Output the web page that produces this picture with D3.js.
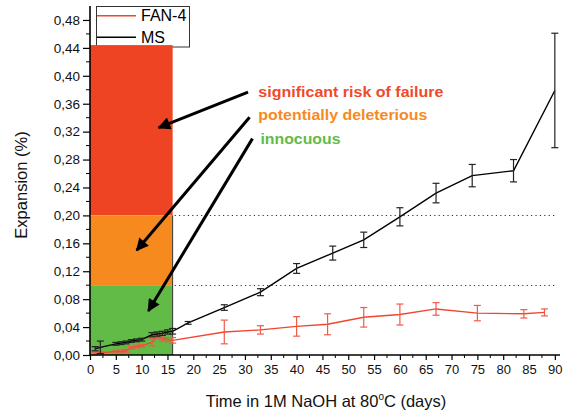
<!DOCTYPE html>
<html>
<head>
<meta charset="utf-8">
<script src="https://cdn.jsdelivr.net/npm/d3@7"></script>
<style>
  body { margin: 0; background: #fff; }
  svg { display: block; font-family: "Liberation Sans", Arial, sans-serif; }
</style>
</head>
<body>
<svg id="chart" width="566" height="414"></svg>
<script>
// days / expansion (%)
const msDays = [1, 2, 5, 6, 7, 8, 9, 10, 12, 13, 14, 15, 16, 19, 26, 33, 40, 47, 53, 60, 67, 74, 82, 90];
const msValues = [0.009, 0.011, 0.016, 0.017, 0.018, 0.020, 0.021, 0.022, 0.029, 0.030, 0.031, 0.033, 0.034,
  0.046, 0.068, 0.090, 0.124, 0.146, 0.165, 0.198, 0.232, 0.257, 0.264, 0.379];
const msErrors = [0.003, 0.009, 0.002, 0.002, 0.002, 0.002, 0.002, 0.002, 0.003, 0.003, 0.003, 0.003, 0.004,
  0.002, 0.004, 0.005, 0.007, 0.010, 0.011, 0.013, 0.014, 0.016, 0.016, 0.082];

const fanDays = [1, 2, 5, 6, 7, 8, 9, 10, 12, 13, 14, 15, 16, 26, 33, 40, 46, 53, 60, 67, 75, 84, 88];
const fanValues = [0.002, 0.003, 0.005, 0.005, 0.006, 0.010, 0.012, 0.013, 0.018, 0.026, 0.024, 0.022, 0.021,
  0.033, 0.036, 0.041, 0.044, 0.054, 0.058, 0.066, 0.060, 0.059, 0.061];
const fanErrors = [0.002, 0.002, 0.002, 0.002, 0.002, 0.002, 0.002, 0.002, 0.005, 0.003, 0.004, 0.003, 0.004,
  0.017, 0.006, 0.014, 0.015, 0.014, 0.015, 0.009, 0.011, 0.006, 0.005];

// limit zones (up to 16 days)
const zoneEnd = 16;
const zones = [
  { from: 0.2, to: 0.444, color: '#ef4423' },
  { from: 0.1, to: 0.2, color: '#f68a1f' },
  { from: 0, to: 0.1, color: '#63bb47' }
];
const limits = [0.1, 0.2];

const labels = [
  { text: 'significant risk of failure', color: '#ef4a2a', day: 32.6, value: 0.369, len: 185, arrow: [30.6, 0.3765, 13.3, 0.3257] },
  { text: 'potentially deleterious', color: '#f68a1f', day: 32.6, value: 0.336, len: 169, arrow: [30.9, 0.3406, 9.05, 0.150] },
  { text: 'innocuous', color: '#63bb47', day: 33.0, value: 0.303, len: 80, arrow: [31.45, 0.310, 11.3, 0.063] }
];

const yTicks = [0, 0.04, 0.08, 0.12, 0.16, 0.2, 0.24, 0.28, 0.32, 0.36, 0.4, 0.44, 0.48];
const xTicks = [0, 5, 10, 15, 20, 25, 30, 35, 40, 45, 50, 55, 60, 65, 70, 75, 80, 85, 90];

const svg = d3.select('#chart');
const x = d3.scaleLinear().domain([0, 91]).range([90, 560]);
const y = d3.scaleLinear().domain([0, 0.5]).range([355, 6]);

const fmt = d => d3.format('.2f')(d).replace('.', ',');

// legend (drawn first, the red zone covers its lower edge)
const legend = svg.append('g');
legend.append('rect').attr('x', 96.5).attr('y', 6.5).attr('width', 93).attr('height', 40.5)
  .attr('fill', '#fff').attr('stroke', '#333').attr('stroke-width', 1);
[['FAN-4', '#f0462e', 15.7, 21], ['MS', '#000', 37.3, 42.5]].forEach(([name, c, ly, ty]) => {
  legend.append('line').attr('x1', 97).attr('x2', 136).attr('y1', ly).attr('y2', ly)
    .attr('stroke', c).attr('stroke-width', 1.5);
  legend.append('text').attr('x', 141).attr('y', ty).attr('font-size', 16).attr('fill', '#000').text(name);
});

svg.append('g').selectAll('rect').data(zones).join('rect')
  .attr('x', x(0)).attr('width', x(zoneEnd) - x(0))
  .attr('y', d => y(d.to)).attr('height', d => y(d.from) - y(d.to))
  .attr('fill', d => d.color);

svg.append('line').attr('x1', x(zoneEnd)).attr('x2', x(zoneEnd)).attr('y1', y(0)).attr('y2', y(0.2))
  .attr('stroke', '#333').attr('stroke-width', 1);

svg.append('g').selectAll('line').data(limits).join('line')
  .attr('x1', x(zoneEnd) + 2).attr('x2', x(90)).attr('y1', d => Math.round(y(d)) + 0.5).attr('y2', d => Math.round(y(d)) + 0.5)
  .attr('stroke', '#333').attr('stroke-width', 1.1).attr('stroke-dasharray', '1.2,3.2');

// series
const drawSeries = (days, values, errors, lineColor, barColor) => {
  const pts = days.map((d, i) => ({ d: d, v: values[i], e: errors[i] }));
  const g = svg.append('g');
  g.append('path').datum(pts)
    .attr('d', d3.line().x(p => x(p.d)).y(p => y(p.v)))
    .attr('fill', 'none').attr('stroke', lineColor).attr('stroke-width', 1.4);
  const bars = g.selectAll('g').data(pts).join('g').attr('stroke', barColor).attr('stroke-width', 1.2);
  bars.append('line').attr('x1', p => x(p.d)).attr('x2', p => x(p.d))
    .attr('y1', p => y(p.v - p.e)).attr('y2', p => y(p.v + p.e));
  bars.append('line').attr('x1', p => x(p.d) - 3.5).attr('x2', p => x(p.d) + 3.5)
    .attr('y1', p => y(p.v - p.e)).attr('y2', p => y(p.v - p.e));
  bars.append('line').attr('x1', p => x(p.d) - 3.5).attr('x2', p => x(p.d) + 3.5)
    .attr('y1', p => y(p.v + p.e)).attr('y2', p => y(p.v + p.e));
};
drawSeries(fanDays, fanValues, fanErrors, '#f0462e', '#f15a48');
drawSeries(msDays, msValues, msErrors, '#000', '#222');

// annotations
svg.append('defs').append('marker').attr('id', 'head')
  .attr('viewBox', '0 0 10 10').attr('refX', 9).attr('refY', 5)
  .attr('markerWidth', 5).attr('markerHeight', 4.2).attr('markerUnits', 'strokeWidth')
  .attr('orient', 'auto')
  .append('path').attr('d', 'M0,0L10,5L0,10Z').attr('fill', '#000');

const ann = svg.append('g');
ann.selectAll('line').data(labels).join('line')
  .attr('x1', d => x(d.arrow[0])).attr('y1', d => y(d.arrow[1]))
  .attr('x2', d => x(d.arrow[2])).attr('y2', d => y(d.arrow[3]))
  .attr('stroke', '#000').attr('stroke-width', 3).attr('marker-end', 'url(#head)');
ann.selectAll('text').data(labels).join('text')
  .attr('x', d => x(d.day)).attr('y', d => y(d.value))
  .attr('font-size', 15).attr('font-weight', 'bold')
  .attr('textLength', d => d.len).attr('lengthAdjust', 'spacingAndGlyphs')
  .attr('fill', d => d.color).text(d => d.text);

// axes
const yAxis = svg.append('g').attr('transform', 'translate(' + x(0) + ',0)')
  .call(d3.axisLeft(y).tickValues(yTicks).tickFormat(fmt).tickSize(7).tickPadding(3));
yAxis.append('g').selectAll('line').data(d3.range(0.02, 0.5, 0.04)).join('line')
  .attr('x1', -4).attr('x2', 0).attr('y1', d => y(d)).attr('y2', d => y(d)).attr('stroke', '#000');
const xAxis = svg.append('g').attr('transform', 'translate(0,' + y(0) + ')')
  .call(d3.axisBottom(x).tickValues(xTicks).tickSize(5).tickPadding(5));
xAxis.append('g').selectAll('line').data(d3.range(2.5, 90, 5)).join('line')
  .attr('x1', d => x(d)).attr('x2', d => x(d)).attr('y1', 0).attr('y2', 3).attr('stroke', '#000');

[yAxis, xAxis].forEach(a => {
  a.select('.domain').attr('stroke-width', 1.6);
  a.selectAll('.tick line').attr('stroke-width', 1.2);
  a.selectAll('text').attr('font-family', '"Liberation Sans", Arial, sans-serif').attr('fill', '#111');
});
yAxis.select('.domain').attr('d', 'M0,' + y(0) + 'V' + y(0.5));
xAxis.select('.domain').attr('d', 'M' + x(0) + ',0H' + x(91));
yAxis.selectAll('text').attr('font-size', 13.5);
xAxis.selectAll('text').attr('font-size', 13);

// axis titles
const xt = svg.append('text').attr('x', 326).attr('y', 407).attr('text-anchor', 'middle')
  .attr('font-size', 16.5).attr('fill', '#111');
xt.append('tspan').text('Time in 1M NaOH at 80');
xt.append('tspan').attr('font-size', 10).attr('dy', -7).text('o');
xt.append('tspan').attr('dy', 7).text('C (days)');

svg.append('text').attr('transform', 'translate(27,185) rotate(-90)').attr('text-anchor', 'middle')
  .attr('font-size', 16.5).attr('fill', '#111').text('Expansion (%)');
</script>
</body>
</html>
